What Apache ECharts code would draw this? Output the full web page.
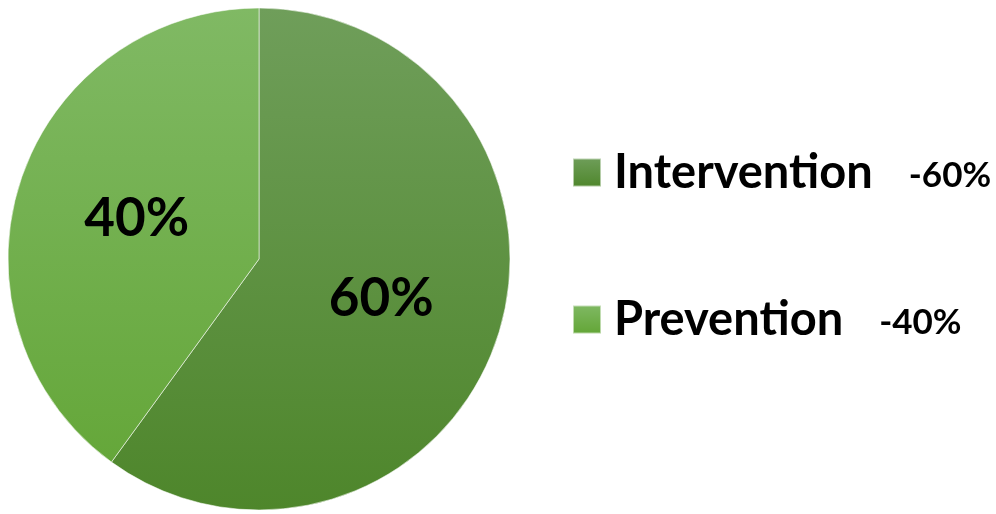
<!DOCTYPE html>
<html><head><meta charset="utf-8">
<script src="https://cdn.jsdelivr.net/npm/echarts@6/dist/echarts.min.js"></script>
<style>html,body{margin:0;padding:0;background:#fff}#c{width:996px;height:514px}</style>
</head><body><div id="c"></div>
<script>
const categories = ['Intervention', 'Prevention'];
const values = [60, 40];
const topColors = ['#6f9e5a', '#80b964'];
const bottomColors = ['#4e862b', '#62a535'];

const chart = echarts.init(document.getElementById('c'), null, {renderer: 'canvas'});
const FONT = 'Lato';
const data = categories.map((c, i) => ({
  name: c,
  value: values[i],
  itemStyle: {
    color: new echarts.graphic.LinearGradient(0, 8, 0, 510, [
      {offset: 0, color: topColors[i]},
      {offset: 1, color: bottomColors[i]}
    ], true)
  }
}));
const legendData = categories.map((c, i) => ({
  name: c,
  itemStyle: {
    color: new echarts.graphic.LinearGradient(0, 0, 0, 1, [
      {offset: 0, color: topColors[i]},
      {offset: 1, color: bottomColors[i]}
    ])
  }
}));
chart.setOption({
  animation: false,
  legend: {
    orient: 'vertical',
    left: 572,
    top: 149,
    padding: 0,
    itemWidth: 28,
    itemHeight: 28,
    itemGap: 100,
    icon: 'rect',
    data: legendData,
    formatter: name => {
      const i = categories.indexOf(name);
      return '{n|' + name + '}{v|-' + values[i] + '%}';
    },
    textStyle: {
      rich: {
        n: {fontFamily: FONT, fontWeight: 'bold', fontSize: 47, color: '#000', padding: [0, 0, 0, 8]},
        v: {fontFamily: FONT, fontWeight: 'bold', fontSize: 35, color: '#000', padding: [7, 0, 0, 36]}
      }
    }
  },
  series: [{
    type: 'pie',
    center: [259, 259],
    radius: 251,
    startAngle: 90,
    clockwise: true,
    data: data,
    itemStyle: {borderColor: 'rgba(255,255,255,0.55)', borderWidth: 1},
    label: {
      position: 'inside',
      formatter: '{c}%',
      fontFamily: FONT,
      fontWeight: 'bold',
      fontSize: 53,
      color: '#000'
    },
    labelLine: {show: false},
    emphasis: {disabled: true}
  }]
});
</script></body></html>
